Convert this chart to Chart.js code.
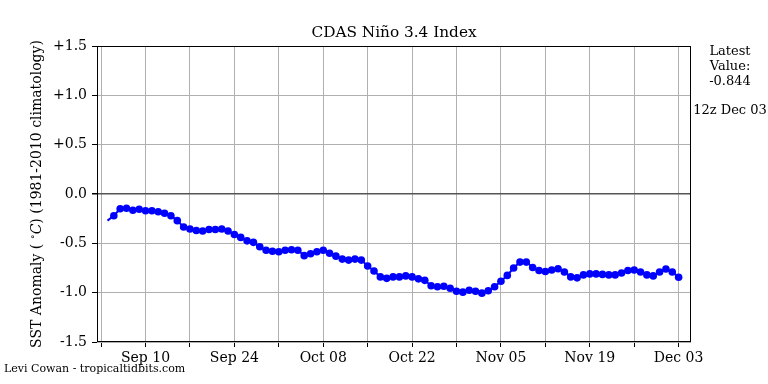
<!DOCTYPE html>
<html>
<head>
<meta charset="utf-8">
<script src="https://cdn.jsdelivr.net/npm/chart.js@4/dist/chart.umd.min.js"></script>
<style>
  html, body { margin: 0; padding: 0; background: #ffffff; }
  #wrap { width: 768px; height: 384px; position: relative; }
</style>
</head>
<body>
<div id="wrap"><canvas id="c" width="768" height="384"></canvas></div>
<script>
// ---- data (day 0 = Sep 03) ----
const startDay = 1; // first value is Sep 04
const anomalies = [
  -0.27, -0.22, -0.15, -0.145, -0.165, -0.155, -0.17, -0.17, -0.18, -0.195,
  -0.22, -0.27, -0.335, -0.355, -0.37, -0.375, -0.36, -0.36, -0.355, -0.375,
  -0.41, -0.44, -0.475, -0.49, -0.535, -0.57, -0.58, -0.585, -0.57, -0.565,
  -0.57, -0.625, -0.605, -0.585, -0.57, -0.60, -0.63, -0.66, -0.67, -0.66,
  -0.67, -0.73, -0.78, -0.84, -0.855, -0.84, -0.84, -0.83, -0.84, -0.86,
  -0.875, -0.93, -0.94, -0.935, -0.955, -0.985, -0.995, -0.975, -0.985, -1.005,
  -0.98, -0.94, -0.885, -0.825, -0.75, -0.69, -0.69, -0.745, -0.775, -0.785,
  -0.77, -0.757, -0.79, -0.84, -0.85, -0.82, -0.81, -0.81, -0.815, -0.82,
  -0.82, -0.80, -0.775, -0.77, -0.79, -0.82, -0.83, -0.79, -0.76, -0.79,
  -0.844
];
const xTickDays   = [0, 7, 14, 21, 28, 35, 42, 49, 56, 63, 70, 77, 84, 91];
const xTickLabels = ['', 'Sep 10', '', 'Sep 24', '', 'Oct 08', '', 'Oct 22', '', 'Nov 05', '', 'Nov 19', '', 'Dec 03'];
const yTickValues = [-1.5, -1.0, -0.5, 0.0, 0.5, 1.0, 1.5];
const yTickLabels = ['-1.5', '-1.0', '-0.5', '0.0', '+0.5', '+1.0', '+1.5'];
const titleText = 'CDAS Niño 3.4 Index';
const yTitleParts = ['SST Anomaly ( ', '∘', 'C', ') (1981-2010 climatology)'];
const latestLines = ['Latest', 'Value:', '-0.844'];
const latestTime = '12z Dec 03';
const creditText = 'Levi Cowan - tropicaltidbits.com';

const points = anomalies.map((v, i) => ({ x: startDay + i, y: v }));
const FONT = '"DejaVu Serif", "Liberation Serif", serif';

const decorPlugin = {
  id: 'decor',
  afterDraw(chart) {
    const ctx = chart.ctx;
    const a = chart.chartArea;
    ctx.save();
    // frame
    ctx.strokeStyle = '#000';
    ctx.lineWidth = 1;
    ctx.strokeRect(Math.round(a.left) + 0.5, Math.round(a.top) + 0.5,
                   Math.round(a.right - a.left) - 1, Math.round(a.bottom - a.top) - 1);
    ctx.fillStyle = '#000';
    // title
    ctx.font = '15.3px ' + FONT;
    ctx.textAlign = 'center';
    ctx.textBaseline = 'middle';
    ctx.fillText(titleText, (a.left + a.right) / 2, 33);
    // latest value annotation
    ctx.font = '13px ' + FONT;
    latestLines.forEach((t, i) => ctx.fillText(t, 730, 52 + i * 15));
    ctx.fillText(latestTime, 730, 111);
    // credit
    ctx.font = '11px ' + FONT;
    ctx.textAlign = 'left';
    ctx.fillText(creditText, 4, 369);
    // y title (rotated, with superscript degree and italic C)
    ctx.translate(37, (a.top + a.bottom) / 2);
    ctx.rotate(-Math.PI / 2);
    const fNorm = '14px ' + FONT;
    const fSup = '10px ' + FONT;
    const fIt = 'italic 14px ' + FONT;
    const fonts = [fNorm, fSup, fIt, fNorm];
    const widths = yTitleParts.map((t, i) => { ctx.font = fonts[i]; return ctx.measureText(t).width; });
    const total = widths.reduce((s, w) => s + w, 0);
    let x = -total / 2;
    ctx.textAlign = 'left';
    yTitleParts.forEach((t, i) => {
      ctx.font = fonts[i];
      ctx.fillText(t, x, i === 1 ? -4 : 0);
      x += widths[i];
    });
    ctx.restore();
  }
};

new Chart(document.getElementById('c'), {
  type: 'line',
  data: {
    datasets: [{
      data: points,
      borderColor: '#0000ff',
      backgroundColor: '#0000ff',
      borderWidth: 2,
      pointRadius: (c) => c.dataIndex === 0 ? 0 : 3.8,
      pointBorderWidth: 0,
      pointHoverRadius: 3.8,
      tension: 0
    }]
  },
  options: {
    responsive: false,
    animation: false,
    events: [],
    layout: { padding: { top: 46, right: 77, left: 0, bottom: 0 } },
    plugins: { legend: { display: false }, tooltip: { enabled: false }, title: { display: false } },
    scales: {
      x: {
        type: 'linear',
        min: -0.65,
        max: 92.95,
        afterBuildTicks: (s) => { s.ticks = xTickDays.map(v => ({ value: v })); },
        afterFit: (s) => { s.height = 42; },
        ticks: {
          autoSkip: false, maxRotation: 0, padding: 3, color: '#000',
          font: { family: FONT, size: 14 },
          callback: (v) => { const i = xTickDays.indexOf(v); return i >= 0 ? xTickLabels[i] : ''; }
        },
        grid: { color: '#b0b0b0', lineWidth: 1, tickColor: '#000', tickLength: 5, drawTicks: true },
        border: { display: false }
      },
      y: {
        min: -1.5,
        max: 1.5,
        afterBuildTicks: (s) => { s.ticks = yTickValues.map(v => ({ value: v })); },
        afterFit: (s) => { s.width = 97; },
        ticks: {
          autoSkip: false, padding: 5, color: '#000',
          font: { family: FONT, size: 14 },
          callback: (v) => { const i = yTickValues.indexOf(v); return i >= 0 ? yTickLabels[i] : ''; }
        },
        grid: {
          color: (c) => (c.tick && c.tick.value === 0) ? '#555555' : '#b0b0b0',
          lineWidth: (c) => (c.tick && c.tick.value === 0) ? 1.5 : 1,
          tickColor: '#000', tickLength: 5, drawTicks: true
        },
        border: { display: false }
      }
    }
  },
  plugins: [decorPlugin]
});
</script>
</body>
</html>
